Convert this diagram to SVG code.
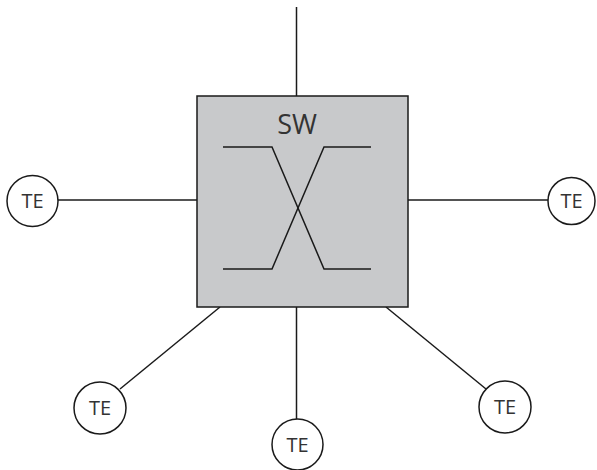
<svg xmlns="http://www.w3.org/2000/svg" width="597" height="470" viewBox="0 0 597 470">
<style>
.ln{stroke:#1a1a1a;stroke-width:1.5;fill:none}
.te circle{fill:#fff;stroke:#1a1a1a;stroke-width:1.5}
text{font-family:"Open Sans","Noto Sans","Liberation Sans",sans-serif;fill:#333;text-anchor:middle}
.te text{font-size:20px}
</style>
<rect width="597" height="470" fill="#fff"/>
<g id="connectors">
<line class="ln" x1="296.5" y1="7" x2="296.5" y2="96"/>
<line class="ln" x1="58" y1="200" x2="197" y2="200"/>
<line class="ln" x1="408" y1="200" x2="548" y2="200"/>
<line class="ln" x1="220" y1="307" x2="120" y2="389"/>
<line class="ln" x1="386" y1="307" x2="486" y2="389"/>
<line class="ln" x1="296.5" y1="307" x2="296.5" y2="419"/>
</g>
<g id="SW">
<rect x="197" y="96" width="211" height="211" fill="#c8c9cb" stroke="#1a1a1a" stroke-width="1.5"/>
<text x="297" y="134" font-size="27">SW</text>
<polyline class="ln" points="223,147 272,147 324,269 371,269"/>
<polyline class="ln" points="223,269 272,269 324,147 371,147"/>
</g>
<g id="te-left" class="te"><circle cx="32.5" cy="201" r="25.5"/><text x="32.5" y="208">TE</text></g>
<g id="te-right" class="te"><circle cx="571.5" cy="201" r="23.5"/><text x="571.5" y="208">TE</text></g>
<g id="te-bl" class="te"><circle cx="100" cy="408" r="26"/><text x="100" y="415">TE</text></g>
<g id="te-br" class="te"><circle cx="505" cy="407" r="26"/><text x="505" y="414">TE</text></g>
<g id="te-bottom" class="te"><circle cx="297.5" cy="444.5" r="25.5"/><text x="297.5" y="451.5">TE</text></g>
</svg>
